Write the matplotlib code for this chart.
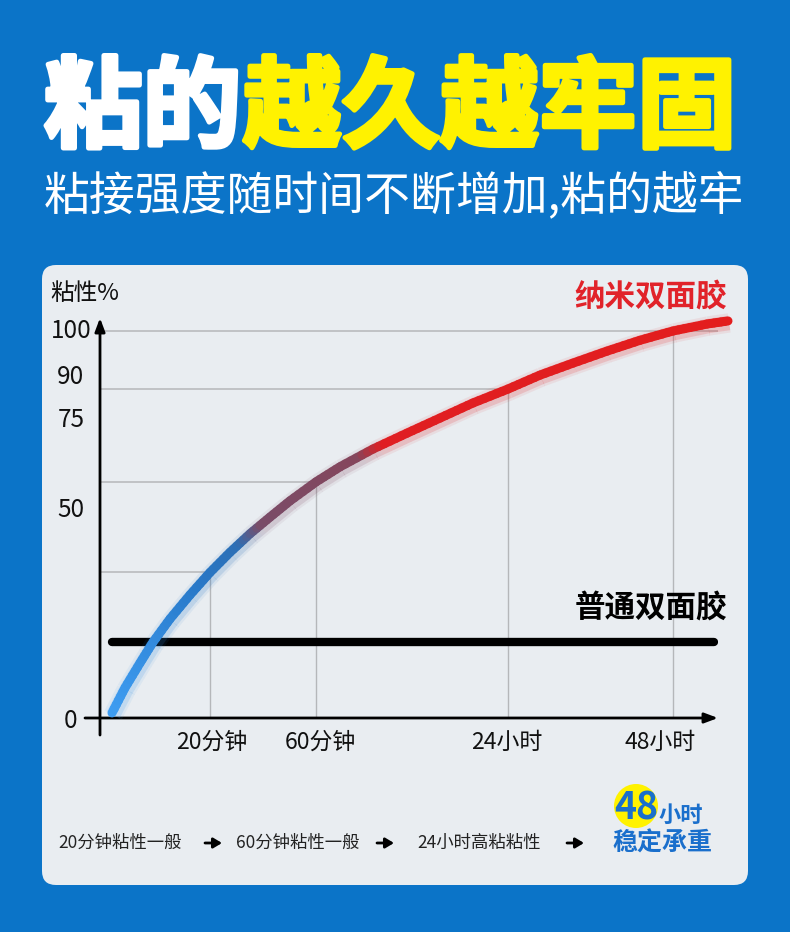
import numpy as np
import matplotlib
matplotlib.use("Agg")
import matplotlib.pyplot as plt
from matplotlib.collections import LineCollection
from matplotlib.patches import FancyBboxPatch, Circle
from matplotlib import transforms
import matplotlib.patheffects as pe

plt.rcParams['font.family'] = ['Noto Sans CJK SC', 'DejaVu Sans']

# ---- data ----
# x in "timeline units" (1 unit = 100 px), y in %
nano_x = [0.12, 0.25, 0.40, 0.53, 0.70, 0.90, 1.10, 1.30, 1.50, 1.70, 1.90,
          2.16, 2.40, 2.73, 3.07, 3.40, 3.73, 4.08, 4.40, 4.73, 5.07, 5.40,
          5.73, 6.07, 6.28]
nano_y = [1.3, 7.8, 14.2, 19.6, 25.6, 31.8, 37.6, 42.8, 47.6, 51.9, 56.1,
          61.0, 64.9, 69.5, 73.6, 77.5, 81.4, 85.0, 88.6, 91.7, 94.8, 97.6,
          100.0, 101.8, 102.6]
normal_x = [0.12, 6.14]
normal_y = [19.7, 19.7]

grid_x = [1.10, 2.16, 4.08, 5.73]
grid_y = [37.7, 61.0, 85.0, 100.0]

x_label_pos = [1.12, 2.20, 4.07, 5.60]
x_labels = ['20分钟', '60分钟', '24小时', '48小时']
y_label_pos = [0, 54.5, 77.8, 88.9, 100.8]
y_labels = ['0', '50', '75', '90', '100']

# colour stops along the curve (x position, colour)
stop_x = [0.12, 1.00, 1.40, 1.62, 2.60, 2.85, 6.3]
stop_c = ['#3e9df2', '#2878c8', '#2c6fb5', '#7a4c68', '#85465c', '#e01e22', '#e31d1d']

steps = ['20分钟粘性一般', '60分钟粘性一般', '24小时高粘粘性']

BG = '#0b74c8'
PANEL = '#e9edf1'
YELLOW = '#fff200'

fig = plt.figure(figsize=(7.9, 9.32), dpi=100)
fig.patch.set_facecolor(BG)

# background layer in pixel units
bg = fig.add_axes([0, 0, 1, 1])
bg.set_xlim(0, 790)
bg.set_ylim(932, 0)
bg.axis('off')

bg.add_patch(FancyBboxPatch((42, 265), 706, 620,
                            boxstyle="round,pad=0,rounding_size=14",
                            fc=PANEL, ec='none'))

thick_w = [pe.withStroke(linewidth=3.5, foreground='white')]
thick_y = [pe.withStroke(linewidth=3.5, foreground=YELLOW)]
bg.text(44, 110, '粘的', color='white', fontsize=71, fontweight='black',
        ha='left', va='center', path_effects=thick_w)
bg.text(243, 110, '越久越牢固', color=YELLOW, fontsize=71, fontweight='black',
        ha='left', va='center', path_effects=thick_y)
bg.text(394, 197, '粘接强度随时间不断增加,粘的越牢', color='white', fontsize=33,
        ha='center', va='center')

bg.text(50, 293, '粘性%', fontsize=17, ha='left', va='center', color='#111111')

# bottom steps row
step_x = [58, 236, 417]
arrow_x = [205, 377, 567]
for sx, s in zip(step_x, steps):
    bg.text(sx, 843, s, fontsize=12.5, ha='left', va='center', color='#222222')
for ax_ in arrow_x:
    bg.annotate('', xy=(ax_ + 17, 843), xytext=(ax_, 843),
                arrowprops=dict(arrowstyle='-|>,head_length=0.5,head_width=0.3',
                                lw=2, color='black', shrinkA=0, shrinkB=0))

bg.add_patch(Circle((636, 806), 22, fc=YELLOW, ec='none'))
bg.text(636, 808, '48', fontsize=27, fontweight='bold', color='#1a6fcc',
        ha='center', va='center')
bg.text(659, 822, '小时', fontsize=16, fontweight='bold', color='#1a6fcc',
        ha='left', va='baseline')
bg.text(662, 844, '稳定承重', fontsize=18, fontweight='bold', color='#1a6fcc',
        ha='center', va='center')

# chart axes
ax = fig.add_axes([100 / 790, (932 - 718) / 932, 618 / 790, 400 / 932])
ax.set_xlim(0, 6.18)
ax.set_ylim(0, 400 / 3.87)
ax.patch.set_alpha(0)
for sp in ax.spines.values():
    sp.set_visible(False)

# staircase grid
gc = '#b5b7ba'
for gx, gy in zip(grid_x, grid_y):
    ax.plot([0, gx], [gy, gy], color=gc, lw=1.1, zorder=1)
    ax.plot([gx, gx], [0, gy], color=gc, lw=1.0, zorder=1)
ax.plot([grid_x[-1], 6.18], [grid_y[-1], grid_y[-1]], color=gc, lw=1.1, zorder=1)

# axes with arrows
ax.annotate('', xy=(0, 400 / 3.87), xytext=(0, -4.4),
            arrowprops=dict(arrowstyle='-|>,head_length=0.8,head_width=0.3',
                            lw=2, color='black', shrinkA=0, shrinkB=0),
            annotation_clip=False)
ax.annotate('', xy=(6.18, 0), xytext=(-0.15, 0),
            arrowprops=dict(arrowstyle='-|>,head_length=0.8,head_width=0.3',
                            lw=2, color='black', shrinkA=0, shrinkB=0),
            annotation_clip=False)

ax.set_xticks(x_label_pos, x_labels, fontsize=16.5)
ax.set_yticks(y_label_pos, y_labels, fontsize=17.5)
ax.tick_params(axis='x', length=0, pad=9, colors='#111111')
ax.tick_params(axis='y', length=0, pad=21, colors='#111111')
for lbl in ax.get_yticklabels():
    lbl.set_horizontalalignment('center')

# normal tape line
ax.plot(normal_x, normal_y, color='black', lw=6, solid_capstyle='round', zorder=3)

# nano tape gradient curve
px = np.array(nano_x)
py = np.array(nano_y)
segs = []
mids = []
for i in range(len(px) - 1):
    t = np.linspace(0, 1, 7)
    xs = px[i] + (px[i + 1] - px[i]) * t
    ys = py[i] + (py[i + 1] - py[i]) * t
    for j in range(len(t) - 1):
        segs.append([(xs[j], ys[j]), (xs[j + 1], ys[j + 1])])
        mids.append((xs[j] + xs[j + 1]) / 2)
mids = np.array(mids)
rgb = np.array([matplotlib.colors.to_rgb(c) for c in stop_c])
cols = np.stack([np.interp(mids, stop_x, rgb[:, k]) for k in range(3)], axis=1)

shift = transforms.ScaledTranslation(1.2 / 100, -2.0 / 100, fig.dpi_scale_trans)
for w, a in [(14, 0.08), (10.5, 0.16)]:
    glow = LineCollection(segs, colors=np.c_[cols, np.full(len(cols), a)],
                          linewidths=w, capstyle='butt', zorder=4,
                          transform=ax.transData + shift)
    glow.set_clip_on(False)
    ax.add_collection(glow)
main = LineCollection(segs, colors=cols, linewidths=6.5, capstyle='round', zorder=5)
main.set_clip_on(False)
ax.add_collection(main)

ax.text(6.27, 100 + (331 - 297) / 3.87, '纳米双面胶', color='#e1232a', fontsize=22,
        fontweight='bold', ha='right', va='center')
ax.text(6.27, (718 - 608) / 3.87, '普通双面胶', color='black', fontsize=22,
        fontweight='bold', ha='right', va='center')

fig.savefig('out.png', dpi=100, facecolor=BG)
